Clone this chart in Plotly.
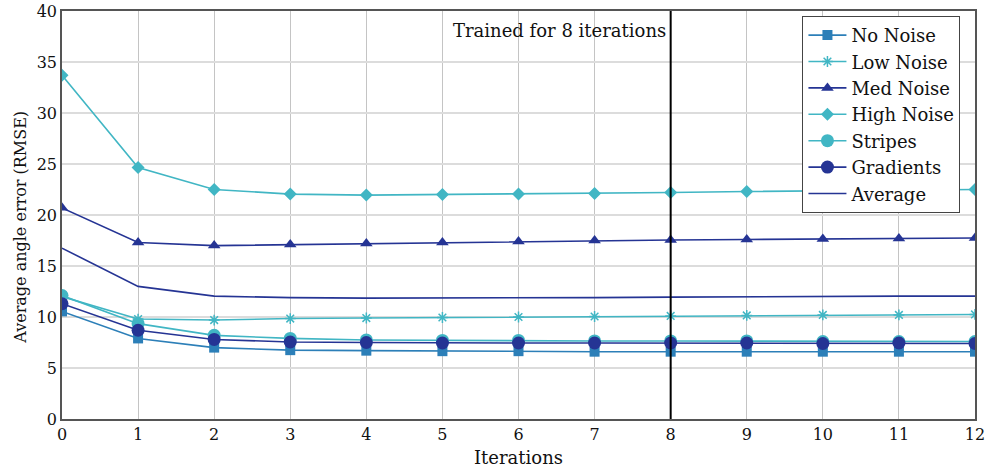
import plotly.graph_objects as go

iterations = list(range(13))
no_noise = [10.55, 7.9, 7.0, 6.75, 6.7, 6.65, 6.65, 6.6, 6.6, 6.6, 6.6, 6.6, 6.6]
low_noise = [12.0, 9.8, 9.7, 9.85, 9.9, 9.95, 10.0, 10.05, 10.1, 10.15, 10.2, 10.2, 10.25]
med_noise = [20.7, 17.3, 17.0, 17.1, 17.2, 17.3, 17.4, 17.5, 17.55, 17.6, 17.65, 17.7, 17.75]
high_noise = [33.7, 24.65, 22.5, 22.05, 21.95, 22.0, 22.05, 22.1, 22.2, 22.3, 22.35, 22.45, 22.5]
stripes = [12.1, 9.35, 8.2, 7.9, 7.75, 7.7, 7.7, 7.65, 7.65, 7.65, 7.6, 7.6, 7.6]
gradients = [11.3, 8.7, 7.8, 7.55, 7.5, 7.45, 7.45, 7.45, 7.45, 7.45, 7.4, 7.45, 7.4]
average = [16.75, 13.0, 12.05, 11.9, 11.85, 11.85, 11.9, 11.9, 11.95, 12.0, 12.0, 12.05, 12.05]

C1 = "#2c7fb8"
C2 = "#41b6c4"
C3 = "#253494"

series = [
    ("No Noise", no_noise, C1, "square", 10),
    ("Low Noise", low_noise, C2, "asterisk-open", 9),
    ("Med Noise", med_noise, C3, "triangle-up", 11),
    ("High Noise", high_noise, C2, "diamond", 10),
    ("Stripes", stripes, C2, "circle", 13),
    ("Gradients", gradients, C3, "circle", 13),
]

FONT = "DejaVu Serif"
FS = 16
FL = 18

fig = go.Figure()
for name, vals, col, sym, sz in series:
    marker = dict(symbol=sym, size=sz, color=col)
    if sym == "asterisk-open":
        marker["line"] = dict(color=col, width=1.5)
    fig.add_trace(go.Scatter(x=iterations, y=vals, name=name, mode="lines+markers",
                             line=dict(color=col, width=1.6), marker=marker))
fig.add_trace(go.Scatter(x=iterations, y=average, name="Average", mode="lines",
                         line=dict(color=C3, width=1.6)))

fig.add_shape(type="line", x0=8, x1=8, y0=0, y1=40, xref="x", yref="y",
              line=dict(color="black", width=2))
fig.add_annotation(x=8, y=38.1, xref="x", yref="y", text="Trained for 8 iterations",
                   showarrow=False, xanchor="right", xshift=-3,
                   font=dict(family=FONT, size=FL, color="#111"))

# axis titles
fig.add_annotation(x=0.5, y=0, xref="paper", yref="paper", yshift=-26,
                   text="Iterations", showarrow=False, yanchor="top",
                   font=dict(family=FONT, size=FL, color="#111"))
fig.add_annotation(x=0, y=0.47, xref="paper", yref="paper", xshift=-30,
                   text="Average angle error (RMSE)", showarrow=False, textangle=-90,
                   xanchor="right", font=dict(family=FONT, size=FS, color="#111"))

fig.update_layout(
    width=987, height=467,
    margin=dict(l=62, r=12, t=11, b=48, autoexpand=False),
    plot_bgcolor="white", paper_bgcolor="white",
    font=dict(family=FONT, size=FS, color="#111"),
    showlegend=True,
    legend=dict(x=0.811, y=0.988, xanchor="left", yanchor="top",
                bordercolor="#444", borderwidth=1, bgcolor="white",
                font=dict(family=FONT, size=FL), tracegroupgap=0,
                itemwidth=38),
    xaxis=dict(range=[0, 12], tickvals=iterations, showgrid=True,
               gridcolor="#c4c4c4", gridwidth=1, zeroline=False,
               showline=True, linecolor="#555", linewidth=1.5, mirror=True,
               ticks="", automargin=False, tickfont=dict(size=FS)),
    yaxis=dict(range=[0, 40], tickvals=list(range(0, 41, 5)), showgrid=True,
               gridcolor="#dcdcdc", gridwidth=2, zeroline=False,
               showline=True, linecolor="#555", linewidth=1.5, mirror=True,
               ticks="", automargin=False, tickfont=dict(size=FS)),
)

fig.write_html("out.html", config={"displayModeBar": False},
               post_script="document.body.style.margin='0';document.body.style.overflow='hidden';")
